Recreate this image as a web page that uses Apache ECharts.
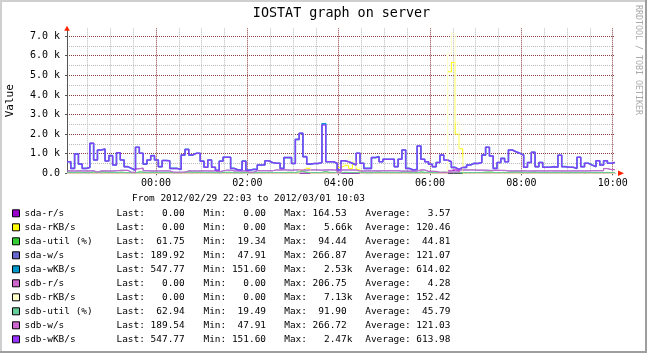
<!DOCTYPE html>
<html><head><meta charset="utf-8">
<script src="https://cdn.jsdelivr.net/npm/echarts@6/dist/echarts.min.js"></script>
<style>html,body{margin:0;padding:0;background:#fff}#c{width:647px;height:353px}</style>
</head><body><div id="c"></div>
<script>
// ---- data (5-minute samples from 2012/02/29 22:03 to 2012/03/01 10:03) ----
const names = ['sda-r/s','sda-rKB/s','sda-util (%)','sda-w/s','sda-wKB/s','sdb-r/s','sdb-rKB/s','sdb-util (%)','sdb-w/s','sdb-wKB/s'];
const colors = ['#9900CC','#FFFF00','#33CC33','#6666CC','#0099CC','#CC66CC','#FFFFCC','#66CC99','#CC66CC','#9933FF'];
const lastVals = ['0.00','0.00','61.75','189.92','547.77','0.00','0.00','62.94','189.54','547.77'];
const minVals  = ['0.00','0.00','19.34','47.91','151.60','0.00','0.00','19.49','47.91','151.60'];
const maxVals  = ['164.53','5.66k','94.44','266.87','2.53k','206.75','7.13k','91.90','266.72','2.47k'];
const avgVals  = ['3.57','120.46','44.81','121.07','614.02','4.28','152.42','45.79','121.03','613.98'];
const yTickLabels = ['0.0','1.0 k','2.0 k','3.0 k','4.0 k','5.0 k','6.0 k','7.0 k'];

const sdaR = [
0,0,0,0,0,0,0,0,0,0,
0,0,0,0,0,0,0,0,0,0,
0,0,0,0,0,0,0,0,0,0,
0,0,0,0,0,0,0,0,0,0,
0,0,0,0,0,0,0,0,0,0,
0,0,0,0,0,0,0,0,0,0,
0,4,6,0,0,0,0,0,0,0,
0,0,5,0,0,8,0,0,0,0,
0,0,0,0,0,0,0,0,0,0,
0,0,0,0,0,0,0,0,0,0,
120,164.53,150,40,0,0,0,0,0,0,
0,0,0,0,0,0,0,0,0,0,
0,0,0,0,0,0,0,0,0,0,
0,0,0,0,0,0,0,0,0,0,
0,0,0,0,0];
const sdaRKB = [
0,0,0,0,0,0,0,0,0,0,
0,0,0,0,0,0,0,0,0,0,
0,0,0,0,0,0,0,0,0,0,
0,0,0,0,0,0,0,0,0,0,
0,0,0,0,0,0,0,0,0,0,
0,0,0,0,0,0,0,0,0,0,
0,150,250,250,0,0,0,0,0,0,
0,300,390,390,250,510,200,0,0,0,
0,0,0,0,0,0,0,0,0,0,
0,0,0,0,0,0,0,0,0,0,
5180,5660,2000,1250,0,0,0,0,0,0,
0,0,0,0,0,0,0,0,0,0,
0,0,0,0,0,0,0,0,0,0,
0,0,0,0,0,0,0,0,0,0,
0,0,0,0,0];
const sdaUtil = [
45,38,56,42,30,32,72,48,60,62,
44,50,38,55,45,30,28,22,66,55,
38,45,52,45,32,44,44,28,26,24,
50,62,50,55,54,42,30,45,30,19.34,
42,48,48,28,25,25,42,24,26,26,
35,36,44,40,38,38,28,48,48,36,
80,94.44,52,36,38,38,40,90,42,42,
38,26,46,44,40,36,58,38,28,28,
48,50,42,45,45,45,30,45,60,28,
25,26,66,45,42,36,30,40,52,44,
42,35,32,30,30,34,38,38,40,52,
64,48,28,40,46,42,60,56,54,50,
30,40,56,30,40,30,30,30,30,50,
30,30,30,28,46,30,38,34,32,44,
36,44,40,42,61.75];
const sdaW = [
120,118,125,122,115,120,128,60,120,122,
118,120,125,150,152,148,50,48,230,266.87,
130,120,118,122,120,125,120,55,52,55,
58,120,122,118,120,125,120,118,122,80,
120,160,158,120,122,118,120,55,52,130,
128,132,130,128,170,165,175,170,160,170,
180,170,165,170,175,170,160,170,175,170,
165,55,170,172,168,170,120,118,122,120,
125,120,130,128,132,130,130,110,112,108,
110,112,170,168,100,102,98,50,48,50,
52,60,62,170,168,172,170,160,162,158,
150,148,152,150,150,120,118,122,120,125,
120,118,120,122,120,118,125,120,122,120,
118,120,122,120,125,120,122,130,128,132,
130,240,190,188,189.92];
const sdaWKB = [
590,250,980,470,250,300,1530,680,1190,1240,
630,900,420,1050,680,340,250,160,1330,1020,
470,680,900,680,340,650,640,250,250,200,
930,1220,930,1020,1020,620,310,680,310,152,
620,820,820,250,170,170,620,160,200,200,
420,420,640,550,510,510,250,800,800,500,
1730,2040,850,470,500,500,550,2530,590,590,
510,170,640,590,510,420,1020,510,250,250,
800,850,590,720,720,720,340,720,1190,250,
170,200,1390,720,590,460,340,550,930,680,
590,300,200,300,300,420,510,500,550,930,
1330,880,250,550,760,590,1190,1100,1020,930,
310,550,1070,340,550,310,310,340,310,920,
340,310,310,250,820,340,510,420,340,640,
420,640,510,550,547.77];
const sdbR = [
0,0,0,0,0,0,0,0,0,0,
0,0,0,0,0,0,0,0,0,0,
0,0,0,0,0,0,0,0,0,0,
0,0,0,0,0,0,0,0,0,0,
0,0,0,0,0,0,0,0,0,0,
0,0,0,0,0,0,0,0,0,0,
0,5,0,0,0,0,0,0,0,0,
0,0,0,0,10,0,0,0,0,0,
0,0,0,0,0,0,0,0,0,0,
0,0,0,0,0,0,0,0,0,0,
150,206.75,180,50,0,0,0,0,0,0,
0,0,0,0,0,0,0,0,0,0,
0,0,0,0,0,0,0,0,0,0,
0,0,0,0,0,0,0,0,0,0,
0,0,0,0,0];
const sdbRKB = [
0,0,0,0,0,0,0,0,0,0,
0,0,0,0,0,0,0,0,0,0,
0,0,0,0,0,0,0,0,0,0,
0,0,0,0,0,0,0,0,0,0,
0,0,0,0,0,0,0,0,0,0,
0,0,0,0,0,0,0,0,0,0,
0,200,300,300,0,0,0,0,0,0,
0,0,450,450,850,600,300,0,0,0,
0,0,0,0,0,0,0,0,0,0,
0,0,0,0,0,0,0,0,0,0,
6100,7130,2600,800,0,0,0,0,0,0,
0,0,0,0,0,0,0,0,0,0,
0,0,0,0,0,0,0,0,0,0,
0,0,0,0,0,0,0,0,0,0,
0,0,0,0,0];
const sdbUtil = [
46,39,57,43,31,33,71,49,61,63,
45,51,39,56,46,31,29,23,67,56,
39,46,53,46,33,45,45,29,27,25,
51,63,51,56,55,43,31,46,31,19.49,
43,49,49,29,26,26,43,25,27,27,
36,37,45,41,39,39,29,49,49,37,
81,91.9,53,37,39,39,41,89,43,43,
39,27,47,45,41,37,59,39,29,29,
49,51,43,46,46,46,31,46,61,29,
26,27,67,46,43,37,31,41,53,45,
43,36,33,31,31,35,39,39,41,53,
65,49,29,41,47,43,61,57,55,51,
31,41,57,31,41,31,31,31,31,51,
31,31,31,29,47,31,39,35,33,45,
37,45,41,43,62.94];
const sdbW = [
120,118,125,122,115,120,128,60,120,122,
118,120,125,150,152,148,50,48,230,266.72,
130,120,118,122,120,125,120,55,52,55,
58,120,122,118,120,125,120,118,122,80,
120,160,158,120,122,118,120,55,52,130,
128,132,130,128,170,165,175,170,160,170,
180,170,165,170,175,170,160,170,175,170,
165,55,170,172,168,170,120,118,122,120,
125,120,130,128,132,130,130,110,112,108,
110,112,170,168,100,102,98,50,48,50,
52,60,62,170,168,172,170,160,162,158,
150,148,152,150,150,120,118,122,120,125,
120,118,120,122,120,118,125,120,122,120,
118,120,122,120,125,120,122,130,128,132,
130,240,190,188,189.54];
const sdbWKB = [
590,250,980,470,250,300,1530,680,1190,1240,
630,900,420,1050,680,340,250,160,1330,1020,
470,680,900,680,340,650,640,250,250,200,
930,1220,930,1020,1020,620,310,680,310,152,
620,820,820,250,170,170,620,160,200,200,
420,420,640,550,510,510,250,800,800,500,
1730,2040,850,470,500,500,550,2470,590,590,
510,170,640,590,510,420,1020,510,250,250,
800,850,590,720,720,720,340,720,1190,250,
170,200,1390,720,590,460,340,550,930,680,
590,300,200,300,300,420,510,500,550,930,
1330,880,250,550,760,590,1190,1100,1020,930,
310,550,1070,340,550,310,310,340,310,920,
340,310,310,250,820,340,510,420,340,640,
420,640,510,550,547.77];

const seriesValues = [sdaR, sdaRKB, sdaUtil, sdaW, sdaWKB, sdbR, sdbRKB, sdbUtil, sdbW, sdbWKB];
const lineWidths = [1,1,1,1,1.6,1,1,1,1,1.5];
const lineOpacity = [1,1,1,1,1,1,1,1,1,0.85];

const startTime = new Date(2012,1,29,22,3).getTime();
const stepMs = 5*60*1000;
const endTime = startTime + 144*stepMs;
const FONT = "'DejaVu Sans Mono', monospace";
const MAJOR = '#8C3C3C';
const MINOR = '#BBBBBB';

// vertical grid positions, as times: minor every 30 min, major every 2 h
const minorGridTimes = [];
const majorGridTimes = [];
for (let t = new Date(2012,1,29,22,30).getTime(); t < endTime; t += 30*60*1000) {
  const d = new Date(t);
  if (d.getMinutes() === 0 && d.getHours() % 2 === 0) majorGridTimes.push(t);
  else minorGridTimes.push(t);
}

function pad(s,n){ s=String(s); while(s.length<n) s=' '+s; return s; }
function splitUnit(s){ return s.endsWith('k') ? [s.slice(0,-1),'k'] : [s,'']; }

const chart = echarts.init(document.getElementById('c'), null, {renderer:'canvas'});

const series = names.map((n,i)=>({
  name:n, type:'line', step:'end', showSymbol:false, animation:false, silent:true,
  xAxisIndex:0, yAxisIndex:0, color:colors[i],
  lineStyle:{width:lineWidths[i], color:colors[i], opacity:lineOpacity[i]},
  data: seriesValues[i].map((v,k)=>[startTime+k*stepMs, v])
}));
series[0].markLine = {
  silent:true, symbol:'none', animation:false, z:1, label:{show:false},
  lineStyle:{color:MINOR, width:1, type:[1,1], opacity:1},
  emphasis:{disabled:true},
  data: minorGridTimes.map(t=>({xAxis:t}))
};
series[1].markLine = {
  silent:true, symbol:'none', animation:false, z:1, label:{show:false},
  lineStyle:{color:MAJOR, width:1, type:[1,1], opacity:1},
  emphasis:{disabled:true},
  data: majorGridTimes.map(t=>({xAxis:t}))
};

const richBase = {fontFamily:FONT, fontSize:9.45, color:'#000', lineHeight:14};
const option = {
  backgroundColor:'#ffffff',
  animation:false,
  grid:{left:67, right:32, top:28.3, bottom:179.7, containLabel:false, outerBoundsMode:'none'},
  xAxis:[
    {type:'time', min:startTime, max:endTime, minInterval:2.5*3600e3, maxInterval:2.5*3600e3,
     axisLine:{show:true, lineStyle:{color:'#555', width:1}},
     axisTick:{show:true, length:2, lineStyle:{color:'#555'}},
     axisLabel:{formatter:'{HH}:{mm}', showMinLabel:false, showMaxLabel:false, hideOverlap:false,
       fontFamily:FONT, fontSize:10, color:'#000', margin:5},
     splitLine:{show:false}}
  ],
  yAxis:[
    {type:'value', min:0, max:7400, interval:1000, z:1,
     name:'Value', nameLocation:'middle', nameRotate:90, nameGap:51,
     nameTextStyle:{fontFamily:FONT, fontSize:11, color:'#000'},
     axisLine:{show:true, lineStyle:{color:'#555', width:1}},
     axisTick:{show:true, length:2, lineStyle:{color:'#555'}},
     axisLabel:{showMaxLabel:false, fontFamily:FONT, fontSize:10, color:'#000', margin:7,
       formatter:(v)=>{ const k=Math.round(v/1000); return (k>=0 && k<yTickLabels.length && k*1000===v) ? yTickLabels[k] : ''; }},
     splitLine:{show:true, showMinLine:false, showMaxLine:false, lineStyle:{color:MAJOR, width:1, type:[1,1]}}},
    {type:'value', min:0, max:7400, interval:500, z:0,
     axisLine:{show:false}, axisTick:{show:false}, axisLabel:{show:false},
     splitLine:{show:true, showMinLine:false, showMaxLine:false, lineStyle:{color:MINOR, width:1, type:[1,1]}}}
  ],
  legend:{
    orient:'vertical', left:12, top:206.3, padding:0, itemGap:0, itemWidth:7, itemHeight:7,
    icon:'rect', selectedMode:false, data:names,
    itemStyle:{borderColor:'#000', borderWidth:1, opacity:1},
    lineStyle:{opacity:1},
    formatter:(name)=>{
      const i = names.indexOf(name);
      const mx = splitUnit(maxVals[i]);
      return '{n|'+name+'}{a|Last:'+pad(lastVals[i],7)+'}{b|Min:'+pad(minVals[i],7)+'}{c|Max:'+pad(mx[0],7)+mx[1]+'}{d|Average:'+pad(avgVals[i],7)+'}';
    },
    textStyle:Object.assign({}, richBase, {rich:{
      n:Object.assign({width:92, align:'left'}, richBase),
      a:Object.assign({width:87, align:'left'}, richBase),
      b:Object.assign({width:80.7, align:'left'}, richBase),
      c:Object.assign({width:81, align:'left'}, richBase),
      d:Object.assign({width:90, align:'left'}, richBase)
    }})
  },
  series: series,
  graphic:[
    {type:'rect', z:-10, shape:{x:0,y:0,width:647,height:2}, style:{fill:'#CFCFCF'}, silent:true},
    {type:'rect', z:-10, shape:{x:0,y:0,width:2,height:353}, style:{fill:'#CFCFCF'}, silent:true},
    {type:'rect', z:-10, shape:{x:645,y:0,width:2,height:353}, style:{fill:'#9E9E9E'}, silent:true},
    {type:'rect', z:-10, shape:{x:0,y:351,width:647,height:2}, style:{fill:'#9E9E9E'}, silent:true},
    {type:'text', x:341.5, y:14, silent:true, style:{text:'IOSTAT graph on server', font:'13.4px '+FONT, fill:'#000', textAlign:'center', textVerticalAlign:'middle'}},
    {type:'text', x:248.5, y:199, silent:true, style:{text:'From 2012/02/29 22:03 to 2012/03/01 10:03', font:'9.45px '+FONT, fill:'#000', textAlign:'center', textVerticalAlign:'middle'}},
    {type:'text', x:638.5, y:5, rotation:-Math.PI/2, silent:true, style:{text:'RRDTOOL / TOBI OETIKER', font:'8.3px '+FONT, fill:'#AAAAAA', textAlign:'left', textVerticalAlign:'middle'}}
  ]
};
chart.setOption(option);

// red axis arrows placed through the axis scales
const pEnd = chart.convertToPixel({xAxisIndex:0, yAxisIndex:0}, [endTime, 0]);
const pTop = chart.convertToPixel({xAxisIndex:0, yAxisIndex:0}, [startTime, 7400]);
chart.setOption({graphic:[
  {id:'ax', type:'polygon', silent:true, z:20, shape:{points:[[pEnd[0]+3, pEnd[1]-2.8],[pEnd[0]+9, pEnd[1]],[pEnd[0]+3, pEnd[1]+2.8]]}, style:{fill:'#FF2200'}},
  {id:'ay', type:'polygon', silent:true, z:20, shape:{points:[[pTop[0]-2.8, pTop[1]+2.5],[pTop[0], pTop[1]-2.5],[pTop[0]+2.8, pTop[1]+2.5]]}, style:{fill:'#FF2200'}}
]});
</script></body></html>
